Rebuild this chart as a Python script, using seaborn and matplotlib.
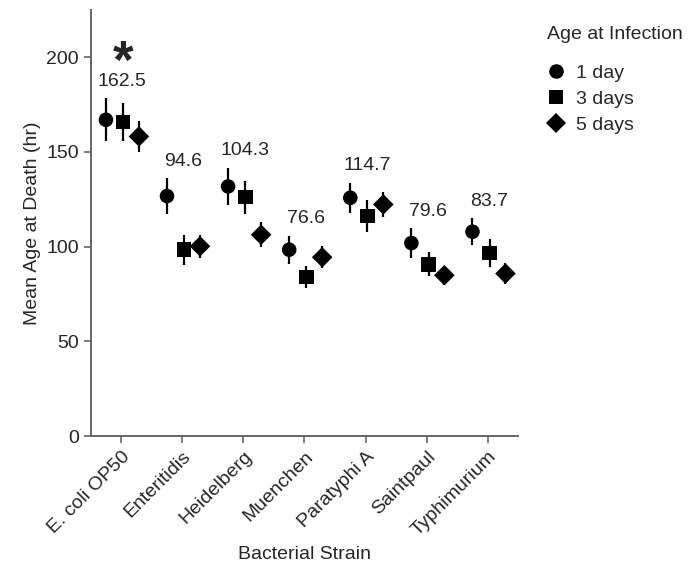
"""
Mean age at death by bacterial strain and age at infection.
"""

import numpy as np
import pandas as pd
import matplotlib
matplotlib.use("Agg")
import matplotlib.pyplot as plt
import seaborn as sns

strains = ["E. coli OP50", "Enteritidis", "Heidelberg", "Muenchen",
           "Paratyphi A", "Saintpaul", "Typhimurium"]
ages = ["1 day", "3 days", "5 days"]

mean_1d = [167.0, 126.7, 131.8, 98.4, 125.8, 101.9, 107.9]
mean_3d = [165.9, 98.4, 126.2, 84.0, 116.3, 90.7, 96.7]
mean_5d = [158.2, 100.2, 106.3, 94.4, 122.3, 84.9, 85.8]

err_1d = [11.3, 9.3, 10.0, 7.4, 7.9, 7.8, 7.0]
err_3d = [10.1, 8.0, 8.7, 6.0, 8.3, 6.3, 7.2]
err_5d = [8.2, 6.2, 6.5, 5.9, 6.7, 5.0, 5.5]

strain_labels = ["162.5", "94.6", "104.3", "76.6", "114.7", "79.6", "83.7"]

# build long table
rows = []
for age, means, errs in zip(ages, [mean_1d, mean_3d, mean_5d],
                            [err_1d, err_3d, err_5d]):
    for i, s in enumerate(strains):
        rows.append({"strain": s, "idx": i, "age": age,
                     "mean": means[i], "err": errs[i]})
df = pd.DataFrame(rows)

offsets = {"1 day": -0.25, "3 days": 0.03, "5 days": 0.29}
df["xpos"] = df["idx"] + df["age"].map(offsets)

sns.set_theme(style="ticks")
plt.rcParams["font.family"] = ["Liberation Sans", "DejaVu Sans"]
plt.rcParams["mathtext.fontset"] = "custom"
plt.rcParams["mathtext.bf"] = "Liberation Sans:bold"

fig = plt.figure(figsize=(6.92, 5.75), dpi=100)
ax = fig.add_axes([0.131, 0.2417, 0.618, 0.741])

ax.errorbar(df["xpos"], df["mean"], yerr=df["err"], fmt="none",
            ecolor="black", elinewidth=1.6, capsize=0, zorder=2)

sns.scatterplot(
    data=df,
    x="xpos",
    y="mean",
    style="age",
    markers={"1 day": "o", "3 days": "s", "5 days": "D"},
    color="black",
    s=110,
    edgecolor="black",
    linewidth=0,
    ax=ax,
    zorder=3
)

# value labels above each strain group
for i, lab in enumerate(strain_labels):
    top = max(mean_1d[i] + err_1d[i], mean_3d[i] + err_3d[i],
              mean_5d[i] + err_5d[i])
    ax.text(i + 0.02, top + 9, lab, ha="center", va="center", fontsize=14)

# significance mark
ax.text(0.03, 197, r"$\mathbf{*}$", ha="center", va="center", fontsize=38)

ax.set_xlim(-0.5, 6.5)
ax.set_ylim(0, 225)
ax.set_yticks([0, 50, 100, 150, 200])
ax.set_xticks(range(len(strains)))
ax.set_xticklabels(strains, rotation=45, ha="right",
                   rotation_mode="anchor", fontsize=14)
ax.tick_params(axis="y", labelsize=14)
ax.tick_params(direction="out", length=5, width=1.2, color="#666666")

ax.set_xlabel("Bacterial Strain", fontsize=14, labelpad=5)
ax.set_ylabel("Mean Age at Death (hr)", fontsize=14)

for side in ["left", "bottom"]:
    ax.spines[side].set_color("#666666")
    ax.spines[side].set_linewidth(1.4)
sns.despine(ax=ax)

leg = ax.legend(title="Age at Infection", loc="upper left",
                bbox_to_anchor=(1.066, 0.962), frameon=False,
                fontsize=14, title_fontsize=14, handletextpad=0.5,
                handlelength=1.0, borderpad=0, borderaxespad=0,
                labelspacing=0.45, markerscale=1.0)
leg._legend_box.align = "left"
leg._legend_box.sep = 15

plt.savefig("out.png", dpi=100)
plt.close()
